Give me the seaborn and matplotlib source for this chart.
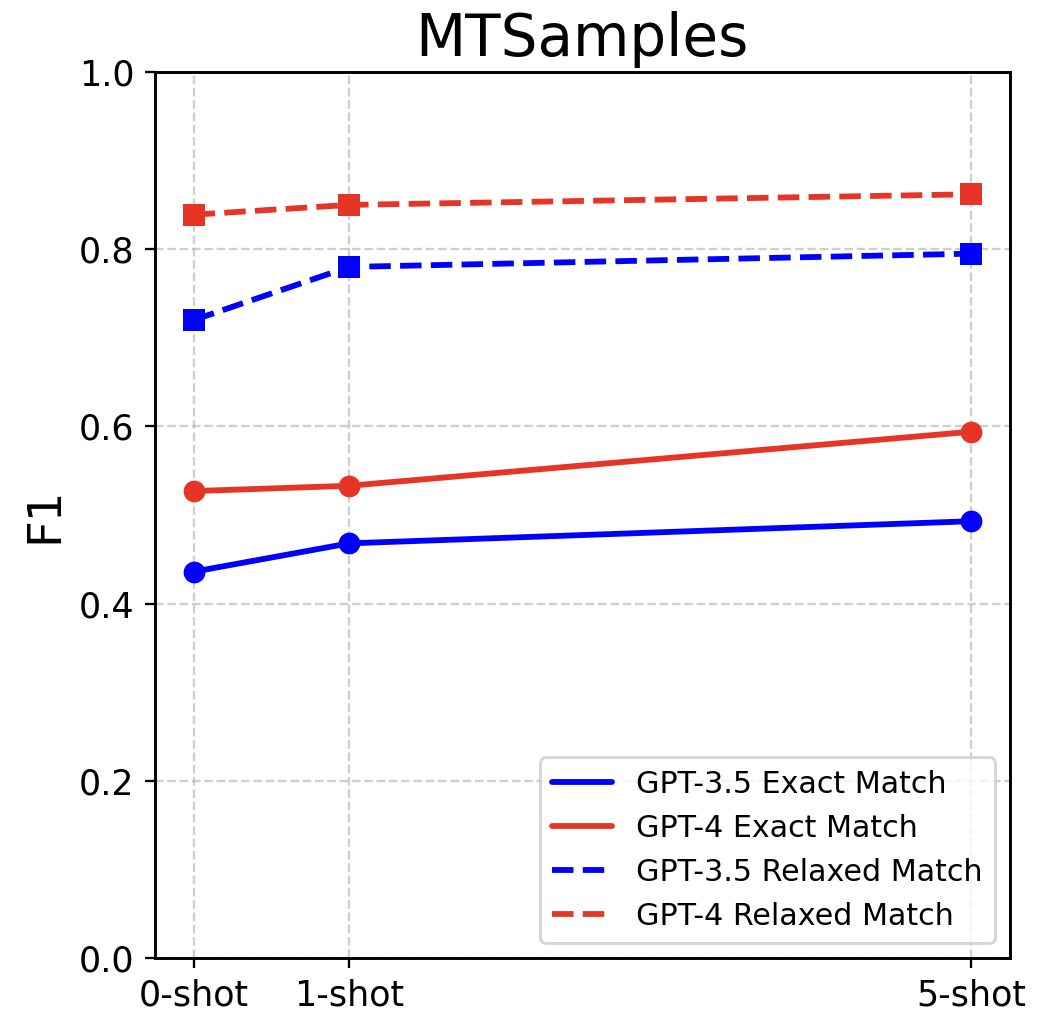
import matplotlib
matplotlib.use("Agg")
import matplotlib.pyplot as plt
from matplotlib.lines import Line2D
import seaborn as sns
import pandas as pd

shots = [0, 1, 5]
shot_labels = ["0-shot", "1-shot", "5-shot"]
gpt35_exact = [0.436, 0.468, 0.493]
gpt4_exact = [0.527, 0.533, 0.594]
gpt35_relaxed = [0.720, 0.780, 0.795]
gpt4_relaxed = [0.839, 0.850, 0.862]

series_names = ["GPT-3.5 Exact Match", "GPT-4 Exact Match",
                "GPT-3.5 Relaxed Match", "GPT-4 Relaxed Match"]
series_vals = [gpt35_exact, gpt4_exact, gpt35_relaxed, gpt4_relaxed]

BLUE = "#0000FF"
RED = "#E63427"
colors = [BLUE, RED, BLUE, RED]
styles = ["-", "-", "--", "--"]
markers = ["o", "o", "s", "s"]

sns.set_style("ticks", rc={"text.color": "black", "axes.labelcolor": "black",
                           "xtick.color": "black", "ytick.color": "black",
                           "axes.edgecolor": "black"})
plt.rcParams['font.family'] = ['DejaVu Sans']

fig = plt.figure(figsize=(5, 1013 / 209), dpi=209)
ax = fig.add_axes([0.148, 0.0543, 0.8185, 0.8746])

for name, vals, c, ls, mk in zip(series_names, series_vals, colors, styles, markers):
    df = pd.DataFrame({"shots": shots, "F1": vals})
    sns.lineplot(data=df, x="shots", y="F1", ax=ax, color=c, linestyle=ls,
                 marker=mk, markersize=7.5, markeredgewidth=0, linewidth=2,
                 legend=False)

ax.set_ylim(0, 1.0)
ax.set_xlim(-0.25, 5.25)
ax.set_xticks(shots)
ax.set_xticklabels(shot_labels)
ax.set_yticks([0.0, 0.2, 0.4, 0.6, 0.8, 1.0])
ax.tick_params(axis="both", labelsize=12, direction="out", length=3.5, width=0.8, colors="black")
ax.set_xlabel("")
ax.set_ylabel("F1", fontsize=16, color="black")
ax.set_title("MTSamples", fontsize=20, pad=5.5, color="black")
ax.grid(True, linestyle="--", color="#b0b0b0", alpha=0.6, linewidth=0.8)
for sp in ax.spines.values():
    sp.set_visible(True)
    sp.set_color("black")
    sp.set_linewidth(1.0)

handles = [Line2D([0], [0], color=c, linestyle=ls, linewidth=2)
           for c, ls in zip(colors, styles)]
leg = ax.legend(handles, series_names, loc="lower right", fontsize=10.4, frameon=True,
                fancybox=True, framealpha=0.8, edgecolor="#cccccc")
for t in leg.get_texts():
    t.set_color("black")

fig.savefig("out.png", dpi=209)
